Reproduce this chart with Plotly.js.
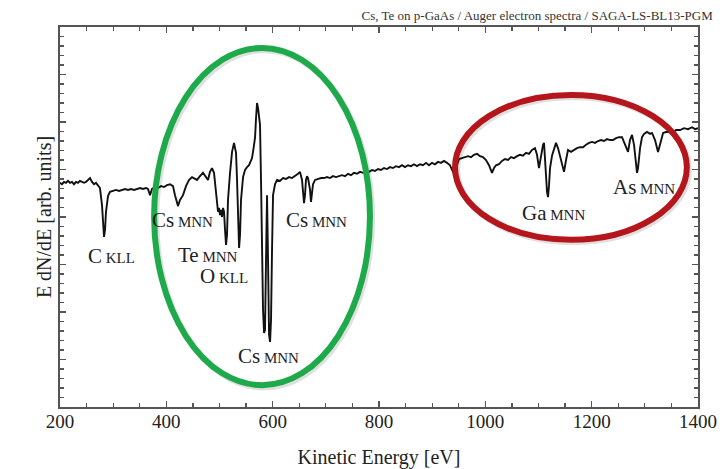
<!DOCTYPE html>
<html>
<head>
<meta charset="utf-8">
<script src="https://cdn.plot.ly/plotly-3.0.1.min.js"></script>
<style>html,body{margin:0;padding:0;background:#fff;}#chart{width:720px;height:469px;}</style>
</head>
<body>
<div id="chart"></div>
<script>
// Kinetic energy (eV)
const energy = [
200,203.8,207.5,211.3,215,218.8,222.6,226.3,230.1,233.9,237.6,241.4,245.1,248.9,252.7,256.4,260.2,264,267.7,271.5,
275.2,279,280.9,282.8,284.7,286.5,290.3,294,299.7,305.3,311,316.6,322.3,327.9,333.5,339.2,344.8,350.5,356.1,361.8,
365.5,369.3,373.1,378.7,384.3,390,395.6,401.3,407,412.5,416.3,421.9,425.7,431.4,437,442.6,448.3,453.9,457.7,463.3,
469,474.6,478.4,482.1,485.9,489.7,493.4,495.3,497.2,499.1,500.9,502.8,504.7,506.6,508.5,510.4,512.3,514.1,516,519.8,
523.6,527.3,531.1,533,534.9,536.8,538.6,540.5,544.3,548,551.8,555.5,557.4,561.2,565,566.9,568.7,570.6,572.5,574.4,
576.2,578.1,580,581.9,583.8,585.6,587.5,589.4,591.3,593.2,595.1,596.9,598.8,600.7,604.4,608.2,613.8,619.4,625.1,630.7,
636.4,642,647.7,651.4,655.2,659,660.8,662.7,664.6,666.5,670.3,672.1,674,675.9,679.7,685.3,691,696.6,702.2,707.8,
713.5,719.1,724.8,730.4,736.1,741.7,747.3,753,758.6,764.3,769.9,775.5,781.2,786.8,792.5,798.1,803.8,809.4,815,820.7,
826.3,832,837.6,843.3,848.9,854.5,860.2,865.8,871.5,877.1,882.7,888.4,894,899.7,905.3,911,916.6,922.2,927.9,933.5,
939.2,944.8,950.5,956.1,961.7,967.4,973,978.7,984.3,990,995.6,1001.2,1006.9,1012.5,1016.3,1020.1,1025.7,1031.3,1037,1042.6,
1048.3,1053.9,1059.6,1065.2,1070.8,1076.5,1082.1,1087.8,1093.4,1097.2,1100.9,1104.7,1108.5,1110.4,1112.2,1114.1,1116,1117.9,1119.8,1121.7,
1125.4,1129.2,1132.9,1136.7,1140.5,1144.2,1148,1151.8,1155.5,1161.2,1166.8,1172.4,1178.1,1183.7,1189.4,1195,1200.7,1206.3,1211.9,1217.6,
1223.2,1228.9,1234.5,1240.1,1245.8,1251.4,1257.1,1260.8,1264.6,1268.4,1272.1,1275.9,1279.7,1283.4,1285.3,1287.2,1291,1294.7,1298.5,1304.1,
1309.8,1313.5,1319.2,1324.8,1328.6,1334.3,1339.9,1347.4,1353.1,1358.7,1366.2,1373.8,1381.3,1388.8,1394.5,1400
];
// E dN/dE (arb. units)
const signal = [
4.72,4.69,4.74,4.72,4.76,4.72,4.74,4.69,4.74,4.72,4.76,4.74,4.72,4.74,4.78,4.82,4.74,4.69,4.72,4.67,
4.61,4.25,3.83,3.58,3.73,4.11,4.44,4.53,4.55,4.57,4.55,4.57,4.59,4.57,4.59,4.57,4.59,4.61,4.59,4.61,
4.59,4.46,4.59,4.63,4.61,4.65,4.63,4.67,4.69,4.65,4.46,4.23,4.36,4.46,4.65,4.78,4.84,4.80,4.78,4.86,
4.93,4.84,4.78,4.95,5.03,4.93,4.46,4.21,4.11,4.19,4.04,4.15,4.00,4.19,4.11,3.73,3.41,3.62,4.36,4.93,
5.37,5.56,5.35,4.78,3.94,3.35,3.62,4.36,4.84,4.99,5.05,5.09,5.14,5.24,5.52,5.68,6.08,6.40,6.29,6.11,
5.94,4.78,3.09,2.04,1.56,1.62,3.09,4.46,3.09,1.52,1.37,1.83,3.31,4.46,4.69,4.78,4.76,4.82,4.80,4.84,
4.82,4.86,4.91,4.95,4.78,4.29,4.46,4.78,4.86,4.82,4.57,4.32,4.46,4.69,4.78,4.80,4.82,4.82,4.84,4.82,
4.86,4.84,4.86,4.88,4.86,4.91,4.88,4.93,4.91,4.95,4.93,4.97,4.95,4.99,4.97,5.01,4.99,5.03,5.01,5.05,
5.03,5.07,5.05,5.09,5.05,5.09,5.07,5.11,5.07,5.11,5.09,5.14,5.09,5.14,5.11,5.16,5.14,5.18,5.14,5.09,
4.95,5.03,5.22,5.24,5.26,5.28,5.26,5.31,5.33,5.28,5.26,5.20,5.09,4.93,5.03,5.09,5.11,5.18,5.22,5.20,
5.26,5.24,5.28,5.31,5.29,5.35,5.33,5.41,5.45,5.31,5.03,5.31,5.52,5.56,5.31,4.88,4.53,4.42,4.67,5.03,
5.29,5.41,5.56,5.45,5.28,5.09,4.95,5.20,5.41,5.37,5.41,5.45,5.47,5.47,5.52,5.56,5.58,5.56,5.60,5.62,
5.60,5.64,5.62,5.62,5.66,5.68,5.68,5.58,5.47,5.37,5.62,5.73,5.52,5.09,4.93,5.03,5.45,5.68,5.75,5.79,
5.75,5.77,5.62,5.37,5.52,5.77,5.79,5.79,5.77,5.83,5.83,5.87,5.85,5.89,5.85,5.87
];
// Peak labels: element, transition, position (eV, arb.)
const labelMain = ["C","Cs","Te","O","Cs","Cs","Ga","As"];
const labelSub  = ["KLL","MNN","MNN","KLL","MNN","MNN","MNN","MNN"];
const labelX = [296, 431, 478, 508, 593, 682, 1129, 1298];
const labelY = [3.18, 3.94, 3.2, 2.76, 1.07, 3.94, 4.08, 4.63];
// Highlight ellipses: [x0,x1,y0,y1]
const greenEllipse = [377, 783, 0.46, 7.56];
const redEllipse = [943, 1379, 3.52, 6.57];

const serif = "Liberation Serif, Times New Roman, serif";
const annotations = labelMain.map((m, i) => ({
  x: labelX[i], y: labelY[i], xref: 'x', yref: 'y', showarrow: false,
  text: m + '<span style="font-size:15px"> ' + labelSub[i] + '</span>',
  font: {family: serif, size: 21, color: '#222'}
}));

const trace = {
  x: energy, y: signal, type: 'scatter', mode: 'lines',
  line: {color: '#111', width: 1.9}, hoverinfo: 'skip'
};

function ellipse(e, color, dx, dy) {
  return {type: 'circle', xref: 'x', yref: 'y', layer: 'above',
    x0: e[0] + dx, x1: e[1] + dx, y0: e[2] + dy, y1: e[3] + dy,
    line: {color: color, width: 6}};
}

const layout = {
  width: 720, height: 469,
  margin: {l: 60, r: 22, t: 27, b: 62},
  paper_bgcolor: '#fff', plot_bgcolor: '#fff',
  showlegend: false,
  title: {
    text: 'Cs, Te on p-GaAs / Auger electron spectra / SAGA-LS-BL13-PGM',
    xref: 'container', x: 0.99, xanchor: 'right',
    yref: 'container', y: 0.968, yanchor: 'middle',
    font: {family: serif, size: 13, color: '#333'}
  },
  xaxis: {
    range: [200, 1400], dtick: 200, tick0: 200,
    showgrid: false, zeroline: false,
    showline: true, linecolor: '#555', linewidth: 2, mirror: 'allticks',
    ticks: 'inside', ticklen: 6, tickwidth: 1.5, tickcolor: '#555',
    ticklabelstandoff: -4,
    minor: {dtick: 50, ticks: 'inside', ticklen: 4, tickwidth: 1.2, tickcolor: '#555', showgrid: false},
    tickfont: {family: serif, size: 19, color: '#222'},
    title: {text: 'Kinetic Energy [eV]', font: {family: serif, size: 20, color: '#222'}, standoff: 20}
  },
  yaxis: {
    range: [0, 8], dtick: 1, tick0: 0,
    showgrid: false, zeroline: false, showticklabels: false,
    showline: true, linecolor: '#555', linewidth: 2, mirror: 'allticks',
    ticks: 'inside', ticklen: 6, tickwidth: 1.5, tickcolor: '#555',
    minor: {dtick: 0.2, ticks: 'inside', ticklen: 4, tickwidth: 1.2, tickcolor: '#555', showgrid: false},
    title: {text: 'E dN/dE [arb. units]', font: {family: serif, size: 20, color: '#222'}, standoff: 1}
  },
  shapes: [
    ellipse(greenEllipse, 'rgba(0,0,0,0.12)', 4, -0.05),
    ellipse(redEllipse, 'rgba(0,0,0,0.12)', 4, -0.05),
    ellipse(greenEllipse, '#1eaa4b', 0, 0),
    ellipse(redEllipse, '#b5161b', 0, 0)
  ],
  annotations: annotations
};

Plotly.newPlot('chart', [trace], layout, {displayModeBar: false, staticPlot: true});
</script>
</body>
</html>
